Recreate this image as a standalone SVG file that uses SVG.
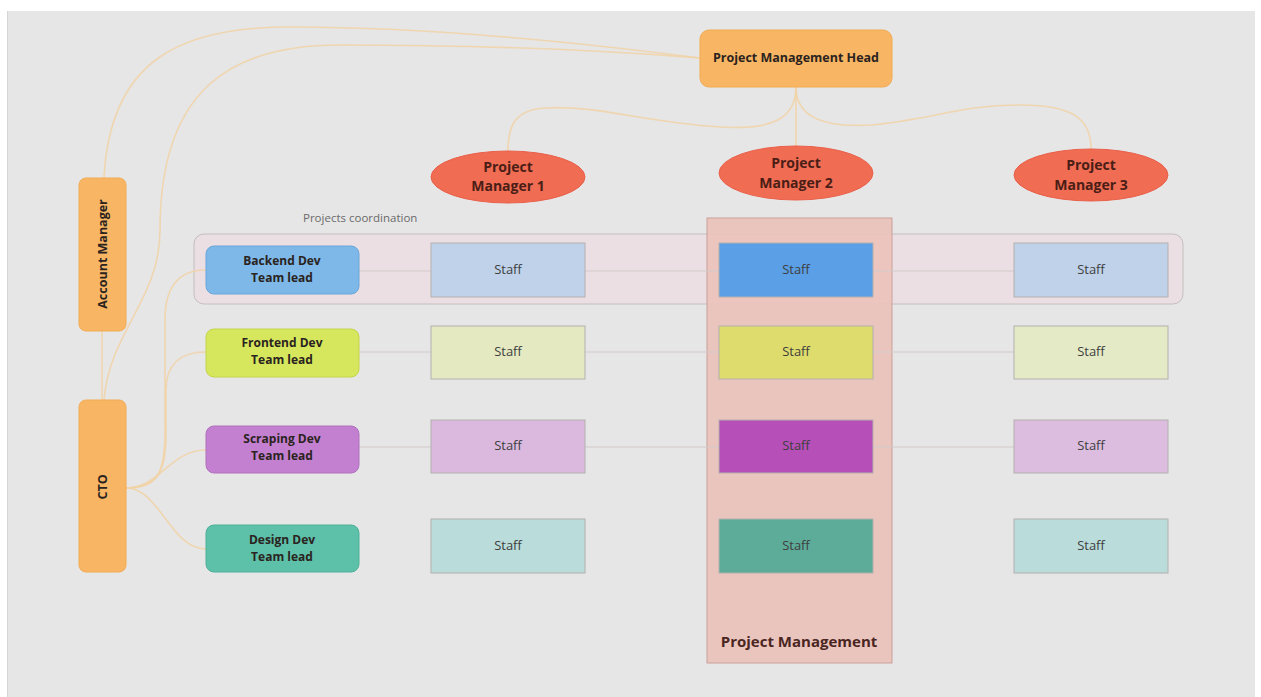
<svg xmlns="http://www.w3.org/2000/svg" width="1261" height="697" viewBox="0 0 1261 697">
  <style>
    text { font-family: "Open Sans", "Liberation Sans", sans-serif; }
    .b { font-weight: 700; fill: #2a2320; }
    .lead { font-size: 12px; text-anchor: middle; }
    .pm { font-size: 14px; text-anchor: middle; fill: #4a1e16; font-weight: 700; }
    .staff { stroke: #b4b0ae; stroke-width: 1; }
    .staffTxt { font-size: 13px; text-anchor: middle; fill: #3e3e3e; }
    .curve { fill: none; stroke: #f1d2a6; stroke-width: 1.6; opacity: 0.85; }
    .row { fill: none; stroke: #d2caca; stroke-width: 1; }
    .orange { fill: #f8b563; stroke: #f2ab55; stroke-width: 1; }
    .ell { fill: #f06c53; stroke: #e9604a; stroke-width: 1; }
  </style>

  <!-- canvas -->
  <rect width="1261" height="697" fill="#ffffff"/>
  <rect x="7" y="11" width="1248" height="686" fill="#e6e6e6"/>
  <line x1="7.5" y1="11" x2="7.5" y2="697" stroke="#d6d6d6"/>

  <!-- project coordination band -->
  <g id="coordination">
    <rect x="194" y="234" width="989" height="70" rx="10" fill="#ecdfe3" stroke="#c4bebe" stroke-width="1"/>
    <text x="303" y="222" font-size="11.5" fill="#6a6a6a">Projects coordination</text>
  </g>

  <!-- project management column -->
  <g id="project-management">
    <rect x="707" y="218" width="185" height="445" fill="#eac2bb" fill-opacity="0.92" stroke="#c9a099" stroke-width="1"/>
    <text x="799" y="647" font-size="15" font-weight="700" fill="#4a2622" text-anchor="middle">Project Management</text>
  </g>

  <!-- connectors -->
  <g id="connectors">
    <!-- head to account manager / CTO -->
    <path class="curve" d="M700,58 C560,40 420,27 290,27 C180,27 110,60 104,178"/>
    <path class="curve" d="M700,58 C600,50 480,45 340,45 C230,45 160,90 160,230 C160,300 110,330 104,400"/>
    <line class="curve" x1="102" y1="331" x2="102" y2="400"/>
    <!-- head to project managers -->
    <line class="curve" x1="796" y1="87" x2="796" y2="146"/>
    <path class="curve" d="M796,87 C796,120 770,130 720,127 C640,122 600,105 545,108 C515,110 508,125 508,151"/>
    <path class="curve" d="M796,87 C796,115 820,128 870,125 C930,120 960,105 1020,105 C1075,105 1091,120 1091,149"/>
    <!-- CTO to team leads -->
    <path class="curve" d="M126,488 C160,488 165,470 165,430 L165,320 C165,285 180,270 206,270"/>
    <path class="curve" d="M126,488 C155,488 165,475 166,440 L166,390 C166,365 180,352 206,352"/>
    <path class="curve" d="M126,488 C160,488 170,450 206,450"/>
    <path class="curve" d="M126,488 C160,488 170,549 206,549"/>
    <!-- team lead rows -->
    <line class="row" x1="359" y1="271" x2="1014" y2="271"/>
    <line class="row" x1="359" y1="352" x2="1014" y2="352"/>
    <line class="row" x1="359" y1="447" x2="1014" y2="447"/>
  </g>

  <!-- head -->
  <g id="pm-head">
    <rect class="orange" x="700" y="30" width="192" height="57" rx="9"/>
    <text class="b" x="796" y="62" font-size="12.5" text-anchor="middle">Project Management Head</text>
  </g>

  <g id="account-manager">
    <rect class="orange" x="79" y="178" width="47" height="153" rx="7"/>
    <text class="b" font-size="12.5" text-anchor="middle" transform="translate(107,254) rotate(-90)">Account Manager</text>
  </g>

  <g id="cto">
    <rect class="orange" x="79" y="400" width="47" height="172" rx="7"/>
    <text class="b" font-size="12.5" text-anchor="middle" transform="translate(107,487) rotate(-90)">CTO</text>
  </g>

  <!-- project managers -->
  <g id="pm1">
    <ellipse class="ell" cx="508" cy="177" rx="77" ry="26"/>
    <text class="pm" x="508" y="172">Project</text>
    <text class="pm" x="508" y="191">Manager 1</text>
  </g>
  <g id="pm2">
    <ellipse class="ell" cx="796" cy="173" rx="77" ry="27"/>
    <text class="pm" x="796" y="168">Project</text>
    <text class="pm" x="796" y="188">Manager 2</text>
  </g>
  <g id="pm3">
    <ellipse class="ell" cx="1091" cy="175" rx="77" ry="26"/>
    <text class="pm" x="1091" y="170">Project</text>
    <text class="pm" x="1091" y="190">Manager 3</text>
  </g>

  <!-- team leads -->
  <g id="lead-backend">
    <rect x="206" y="246" width="153" height="48" rx="8" fill="#7db8e9" stroke="#6aa6d8"/>
    <text class="b lead" x="282" y="265" fill="#1d2a3c">Backend Dev</text>
    <text class="b lead" x="282" y="282">Team lead</text>
  </g>
  <g id="lead-frontend">
    <rect x="206" y="329" width="153" height="48" rx="8" fill="#d7e75d" stroke="#c3d44c"/>
    <text class="b lead" x="282" y="347">Frontend Dev</text>
    <text class="b lead" x="282" y="364">Team lead</text>
  </g>
  <g id="lead-scraping">
    <rect x="206" y="426" width="153" height="47" rx="8" fill="#c480d0" stroke="#b070bd"/>
    <text class="b lead" x="282" y="443">Scraping Dev</text>
    <text class="b lead" x="282" y="460">Team lead</text>
  </g>
  <g id="lead-design">
    <rect x="206" y="525" width="153" height="47" rx="8" fill="#5dc0a9" stroke="#4fb099"/>
    <text class="b lead" x="282" y="544">Design Dev</text>
    <text class="b lead" x="282" y="561">Team lead</text>
  </g>

  <!-- staff, row 1 -->
  <g id="staff-1-1"><rect class="staff" x="431" y="243" width="154" height="54" fill="#bfd2e9"/><text class="staffTxt" x="508" y="274">Staff</text></g>
  <g id="staff-1-2"><rect class="staff" x="719" y="243" width="154" height="54" fill="#5b9fe6"/><text class="staffTxt" x="796" y="274">Staff</text></g>
  <g id="staff-1-3"><rect class="staff" x="1014" y="243" width="154" height="54" fill="#bfd2e9"/><text class="staffTxt" x="1091" y="274">Staff</text></g>
  <!-- staff, row 2 -->
  <g id="staff-2-1"><rect class="staff" x="431" y="326" width="154" height="53" fill="#e4e9c2"/><text class="staffTxt" x="508" y="356">Staff</text></g>
  <g id="staff-2-2"><rect class="staff" x="719" y="326" width="154" height="53" fill="#dedc6d"/><text class="staffTxt" x="796" y="356">Staff</text></g>
  <g id="staff-2-3"><rect class="staff" x="1014" y="326" width="154" height="53" fill="#e5eac6"/><text class="staffTxt" x="1091" y="356">Staff</text></g>
  <!-- staff, row 3 -->
  <g id="staff-3-1"><rect class="staff" x="431" y="420" width="154" height="53" fill="#dbb9de"/><text class="staffTxt" x="508" y="450">Staff</text></g>
  <g id="staff-3-2"><rect class="staff" x="719" y="420" width="154" height="53" fill="#b650b8"/><text class="staffTxt" x="796" y="450">Staff</text></g>
  <g id="staff-3-3"><rect class="staff" x="1014" y="420" width="154" height="53" fill="#dcbde0"/><text class="staffTxt" x="1091" y="450">Staff</text></g>
  <!-- staff, row 4 -->
  <g id="staff-4-1"><rect class="staff" x="431" y="519" width="154" height="54" fill="#badcda"/><text class="staffTxt" x="508" y="550">Staff</text></g>
  <g id="staff-4-2"><rect class="staff" x="719" y="519" width="154" height="54" fill="#5cac99"/><text class="staffTxt" x="796" y="550">Staff</text></g>
  <g id="staff-4-3"><rect class="staff" x="1014" y="519" width="154" height="54" fill="#badcdb"/><text class="staffTxt" x="1091" y="550">Staff</text></g>
</svg>
